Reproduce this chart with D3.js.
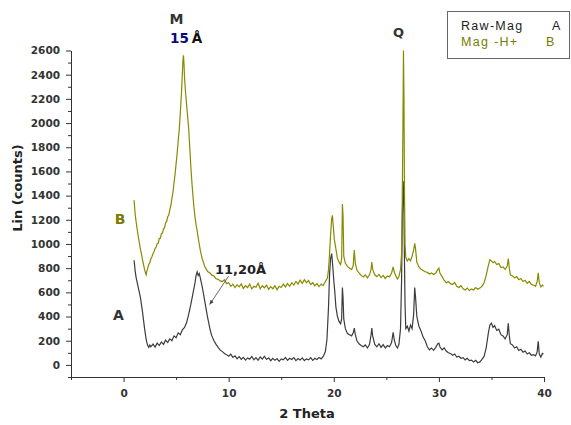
<!DOCTYPE html>
<html>
<head>
<meta charset="utf-8">
<script src="https://cdn.jsdelivr.net/npm/d3@7"></script>
<style>
html,body{margin:0;padding:0;background:#fff;}
svg{display:block;}
text{font-family:"DejaVu Sans",Arial,sans-serif;}
</style>
</head>
<body>
<svg id="chart" width="571" height="425"></svg>
<script>
// ---- Data ----
const xTicksMajor = [0, 10, 20, 30, 40];
const xTicksMinor = [-5, 5, 15, 25, 35];
const yTicksMajor = [0, 200, 400, 600, 800, 1000, 1200, 1400, 1600, 1800, 2000, 2200, 2400, 2600];
const yTicksMinor = [-100, 100, 300, 500, 700, 900, 1100, 1300, 1500, 1700, 1900, 2100, 2300, 2500];
const seriesNames = ["Raw-Mag", "Mag -H+"];
const seriesTags = ["A", "B"];

// Mag -H+ (B): [2theta, counts]
const magHB = [
[1.0,1361],[1.1,1250],[1.2,1180],[1.3,1120],[1.4,1060],[1.5,1010],[1.6,960],[1.7,920],[1.8,870],[1.9,830],
[2.0,790],[2.1,755],[2.15,745],[2.2,770],[2.3,800],[2.4,832],[2.5,845],[2.6,878],[2.7,895],[2.8,920],
[2.9,935],[3.0,962],[3.1,975],[3.2,1002],[3.3,1005],[3.4,1045],[3.5,1048],[3.6,1085],[3.7,1090],[3.8,1125],
[3.9,1135],[4.0,1175],[4.1,1185],[4.2,1225],[4.3,1238],[4.4,1285],[4.5,1318],[4.6,1375],[4.7,1428],[4.8,1505],
[4.9,1578],[5.0,1665],[5.1,1748],[5.2,1855],[5.3,1948],[5.4,2085],[5.5,2230],[5.6,2420],[5.65,2520],[5.7,2560],
[5.75,2490],[5.8,2380],[5.9,2250],[6.0,2150],[6.1,2050],[6.2,1950],[6.3,1800],[6.4,1640],[6.5,1510],[6.6,1400],
[6.7,1300],[6.8,1220],[6.9,1160],[7.0,1110],[7.1,1050],[7.2,1000],[7.3,950],[7.4,910],[7.5,872],[7.6,850],
[7.7,818],[7.8,802],[8.0,772],[8.2,762],[8.4,742],[8.6,735],[8.8,712],[9.0,708],[9.2,695],[9.4,690],
[9.6,705],[9.8,672],[10.0,680],[10.2,650],[10.4,668],[10.6,640],[10.8,662],[11.0,645],[11.2,670],[11.4,632],
[11.6,655],[11.8,640],[12.0,668],[12.2,628],[12.4,650],[12.6,642],[12.8,675],[13.0,630],[13.2,655],[13.4,638],
[13.6,660],[13.8,625],[14.0,648],[14.2,630],[14.4,655],[14.6,622],[14.8,650],[15.0,640],[15.2,668],[15.4,645],
[15.6,672],[15.8,650],[16.0,680],[16.2,660],[16.4,690],[16.6,668],[16.8,700],[17.0,675],[17.2,705],[17.4,680],
[17.6,698],[17.8,665],[18.0,680],[18.2,655],[18.4,672],[18.6,648],[18.8,668],[19.0,655],[19.2,690],[19.4,720],
[19.5,790],[19.6,920],[19.7,1080],[19.8,1210],[19.87,1237],[19.95,1150],[20.05,1040],[20.2,960],[20.35,880],[20.5,850],
[20.65,830],[20.75,880],[20.82,1330],[20.88,1240],[20.95,900],[21.1,840],[21.3,815],[21.5,800],[21.7,790],[21.85,820],
[21.95,950],[22.05,840],[22.2,785],[22.4,760],[22.6,740],[22.8,728],[23.0,745],[23.2,720],[23.4,745],[23.55,790],
[23.62,850],[23.7,790],[23.9,745],[24.1,730],[24.3,748],[24.5,722],[24.7,740],[24.9,715],[25.1,735],[25.3,728],
[25.5,760],[25.65,810],[25.75,770],[25.9,735],[26.05,710],[26.2,730],[26.35,790],[26.45,920],[26.52,1400],[26.58,2000],
[26.63,2600],[26.68,2200],[26.72,1500],[26.78,1000],[26.85,890],[27.0,860],[27.15,880],[27.3,860],[27.45,900],[27.6,950],
[27.7,1005],[27.78,960],[27.9,850],[28.1,810],[28.3,790],[28.5,780],[28.7,770],[28.9,765],[29.1,752],[29.3,760],
[29.5,748],[29.7,760],[29.9,790],[30.0,800],[30.1,760],[30.3,730],[30.5,700],[30.7,680],[30.9,690],[31.1,672],
[31.3,665],[31.5,682],[31.7,650],[31.9,640],[32.1,655],[32.3,630],[32.5,620],[32.7,635],[32.9,615],[33.1,628],
[33.3,620],[33.5,640],[33.7,625],[33.9,635],[34.1,650],[34.3,680],[34.5,740],[34.7,820],[34.85,870],[35.0,860],
[35.15,845],[35.3,855],[35.5,830],[35.7,838],[35.9,805],[36.1,810],[36.3,790],[36.5,815],[36.6,880],[36.7,800],
[36.8,745],[37.0,735],[37.2,720],[37.4,730],[37.6,705],[37.8,715],[38.0,690],[38.2,700],[38.4,675],[38.6,690],
[38.8,665],[39.0,660],[39.2,650],[39.35,690],[39.45,762],[39.55,680],[39.7,645],[39.85,660],[39.95,650]
];

// Raw-Mag (A): [2theta, counts]
const rawMagA = [
[1.0,866],[1.1,780],[1.2,720],[1.3,680],[1.4,640],[1.5,600],[1.6,560],[1.7,500],[1.8,440],[1.9,370],
[2.0,300],[2.1,240],[2.2,190],[2.3,160],[2.4,145],[2.5,165],[2.6,150],[2.8,172],[3.0,148],[3.2,180],
[3.4,160],[3.6,190],[3.8,170],[4.0,205],[4.2,185],[4.4,215],[4.6,200],[4.8,240],[5.0,225],[5.2,265],
[5.4,250],[5.6,290],[5.8,310],[6.0,350],[6.2,420],[6.4,500],[6.6,590],[6.8,680],[6.9,740],[7.0,770],
[7.1,740],[7.2,755],[7.3,720],[7.4,680],[7.5,640],[7.6,590],[7.7,540],[7.8,490],[7.9,440],[8.0,390],
[8.1,350],[8.2,305],[8.3,270],[8.4,240],[8.6,200],[8.8,170],[9.0,145],[9.2,122],[9.4,110],[9.6,95],
[9.8,85],[10.0,72],[10.2,88],[10.4,62],[10.6,75],[10.8,50],[11.0,68],[11.2,45],[11.4,62],[11.6,40],
[11.8,58],[12.0,48],[12.2,70],[12.4,42],[12.6,60],[12.8,38],[13.0,65],[13.2,48],[13.4,72],[13.6,45],
[13.8,58],[14.0,35],[14.2,55],[14.4,38],[14.6,52],[14.8,30],[15.0,50],[15.2,42],[15.4,62],[15.6,38],
[15.8,55],[16.0,45],[16.2,60],[16.4,35],[16.6,52],[16.8,40],[17.0,58],[17.2,36],[17.4,50],[17.6,42],
[17.8,60],[18.0,38],[18.2,55],[18.4,45],[18.6,62],[18.8,50],[19.0,70],[19.2,110],[19.35,210],[19.5,480],
[19.6,750],[19.7,880],[19.8,921],[19.9,820],[20.0,700],[20.1,600],[20.2,480],[20.35,400],[20.5,360],[20.65,340],
[20.75,380],[20.82,640],[20.88,560],[20.95,380],[21.1,300],[21.3,260],[21.5,250],[21.7,240],[21.85,265],[21.95,305],
[22.05,250],[22.2,200],[22.4,175],[22.6,160],[22.8,150],[23.0,165],[23.2,140],[23.4,170],[23.55,250],[23.62,305],
[23.7,240],[23.9,170],[24.1,150],[24.3,175],[24.5,145],[24.7,168],[24.9,140],[25.1,160],[25.3,150],[25.5,185],
[25.65,270],[25.75,210],[25.9,160],[26.05,140],[26.2,170],[26.35,300],[26.45,700],[26.52,1200],[26.6,1520],[26.66,1400],
[26.72,900],[26.78,500],[26.85,300],[27.0,320],[27.15,280],[27.3,330],[27.45,300],[27.6,420],[27.7,640],[27.78,560],
[27.9,400],[28.1,320],[28.3,280],[28.5,230],[28.7,200],[28.9,150],[29.1,125],[29.3,140],[29.5,120],[29.7,145],
[29.9,175],[30.0,180],[30.1,150],[30.3,125],[30.5,140],[30.7,115],[30.9,100],[31.1,95],[31.3,80],[31.5,90],
[31.7,65],[31.9,72],[32.1,55],[32.3,60],[32.5,42],[32.7,55],[32.9,35],[33.1,40],[33.3,25],[33.5,38],
[33.7,18],[33.9,25],[34.1,45],[34.3,70],[34.5,140],[34.7,260],[34.85,330],[35.0,345],[35.15,310],[35.3,325],
[35.5,285],[35.7,295],[35.9,250],[36.1,240],[36.3,215],[36.5,250],[36.6,345],[36.7,240],[36.8,175],[37.0,165],
[37.2,140],[37.4,150],[37.6,120],[37.8,130],[38.0,105],[38.2,115],[38.4,90],[38.6,100],[38.8,80],[39.0,85],
[39.2,75],[39.35,110],[39.45,195],[39.55,90],[39.7,65],[39.85,95],[39.95,90]
];

// ---- Drawing ----
const svg = d3.select("#chart");
const colA = "#3c3c3c", colB = "#8a8a00", axisCol = "#333";

const x = d3.scaleLinear().domain([-5, 40]).range([71, 544]);
const y = d3.scaleLinear().domain([-100, 2600]).range([377, 50.5]);

// X axis
const gx = svg.append("g").attr("transform", `translate(0,${y(-100)})`);
gx.call(d3.axisBottom(x).tickValues(xTicksMajor).tickFormat(d3.format("d")).tickSize(5).tickPadding(8).tickSizeOuter(0));
const gxm = svg.append("g").attr("transform", `translate(0,${y(-100)})`);
gxm.call(d3.axisBottom(x).tickValues(xTicksMinor).tickSize(3).tickFormat("").tickSizeOuter(0));
gxm.select(".domain").remove();

// Y axis
const gy = svg.append("g").attr("transform", `translate(${x(-5)},0)`);
gy.call(d3.axisLeft(y).tickValues(yTicksMajor).tickFormat(d3.format("d")).tickSize(5).tickPadding(6).tickSizeOuter(0));
const gym = svg.append("g").attr("transform", `translate(${x(-5)},0)`);
gym.call(d3.axisLeft(y).tickValues(yTicksMinor).tickSize(3).tickFormat("").tickSizeOuter(0));
gym.select(".domain").remove();

svg.selectAll(".domain, .tick line").attr("stroke", axisCol).attr("stroke-width", 1);
svg.selectAll(".tick text")
  .attr("fill", axisCol)
  .style("font-family", "DejaVu Sans, sans-serif")
  .style("font-size", "10.5px")
  .style("font-weight", "bold");

// Axis titles
svg.append("text").attr("x", 307).attr("y", 418).attr("text-anchor", "middle")
  .style("font-size", "13px").style("font-weight", "bold").attr("fill", "#222").text("2 Theta");
svg.append("text").attr("transform", "translate(22,188) rotate(-90)").attr("text-anchor", "middle")
  .style("font-size", "13px").style("font-weight", "bold").attr("fill", "#222").text("Lin (counts)");

// Lines
const line = d3.line().x(d => x(d[0])).y(d => y(d[1]));
svg.append("path").datum(rawMagA).attr("d", line)
  .attr("fill", "none").attr("stroke", colA).attr("stroke-width", 1.2);
svg.append("path").datum(magHB).attr("d", line)
  .attr("fill", "none").attr("stroke", colB).attr("stroke-width", 1.2);

// Series tags on the plot
svg.append("text").attr("x", 120).attr("y", 224).attr("text-anchor", "middle")
  .style("font-size", "14px").style("font-weight", "bold").attr("fill", "#7a7a00").text(seriesTags[1]);
svg.append("text").attr("x", 118.5).attr("y", 320).attr("text-anchor", "middle")
  .style("font-size", "14px").style("font-weight", "bold").attr("fill", "#333").text(seriesTags[0]);

// Peak annotations
svg.append("text").attr("x", 176.5).attr("y", 24).attr("text-anchor", "middle")
  .style("font-size", "14px").style("font-weight", "bold").attr("fill", "#333").text("M");
const t15 = svg.append("text").attr("x", 170).attr("y", 42.5)
  .style("font-size", "13.5px").style("font-weight", "bold");
t15.append("tspan").attr("fill", "#0a0a7a").text("15");
t15.append("tspan").attr("fill", "#111").attr("dx", 3).text("Å");
svg.append("text").attr("x", 398.5).attr("y", 37).attr("text-anchor", "middle")
  .style("font-size", "13px").style("font-weight", "bold").attr("fill", "#333").text("Q");
svg.append("text").attr("x", 215).attr("y", 274)
  .style("font-size", "13px").style("font-weight", "bold").attr("fill", "#222").text("11,20Å");

// arrow for 11,20 Å
svg.append("defs").append("marker").attr("id", "ah").attr("viewBox", "0 0 10 10")
  .attr("refX", 9).attr("refY", 5).attr("markerWidth", 6).attr("markerHeight", 6)
  .attr("orient", "auto").append("path").attr("d", "M0,1 L10,5 L0,9 Z").attr("fill", "#444");
svg.append("line").attr("x1", x(10.0)).attr("y1", y(735)).attr("x2", x(8.2)).attr("y2", y(500))
  .attr("stroke", "#444").attr("stroke-width", 0.8).attr("marker-end", "url(#ah)");

// Legend
svg.append("rect").attr("x", 447.5).attr("y", 11.5).attr("width", 122).attr("height", 47)
  .attr("fill", "#fff").attr("stroke", "#666").attr("stroke-width", 1);
const leg = [[seriesNames[0], seriesTags[0], "#222", 29.5], [seriesNames[1], seriesTags[1], "#7a7a00", 45.5]];
leg.forEach(([n, t, c, yy], i) => {
  svg.append("text").attr("x", 461).attr("y", yy)
    .style("font-family", "Liberation Sans, Arial, sans-serif").style("font-size", "12.5px")
    .style("letter-spacing", "1.3px").attr("fill", c).text(n);
  svg.append("text").attr("x", i === 0 ? 552 : 546).attr("y", yy)
    .style("font-family", "Liberation Sans, Arial, sans-serif").style("font-size", "12.5px")
    .attr("fill", c).text(t);
});
</script>
</body>
</html>
